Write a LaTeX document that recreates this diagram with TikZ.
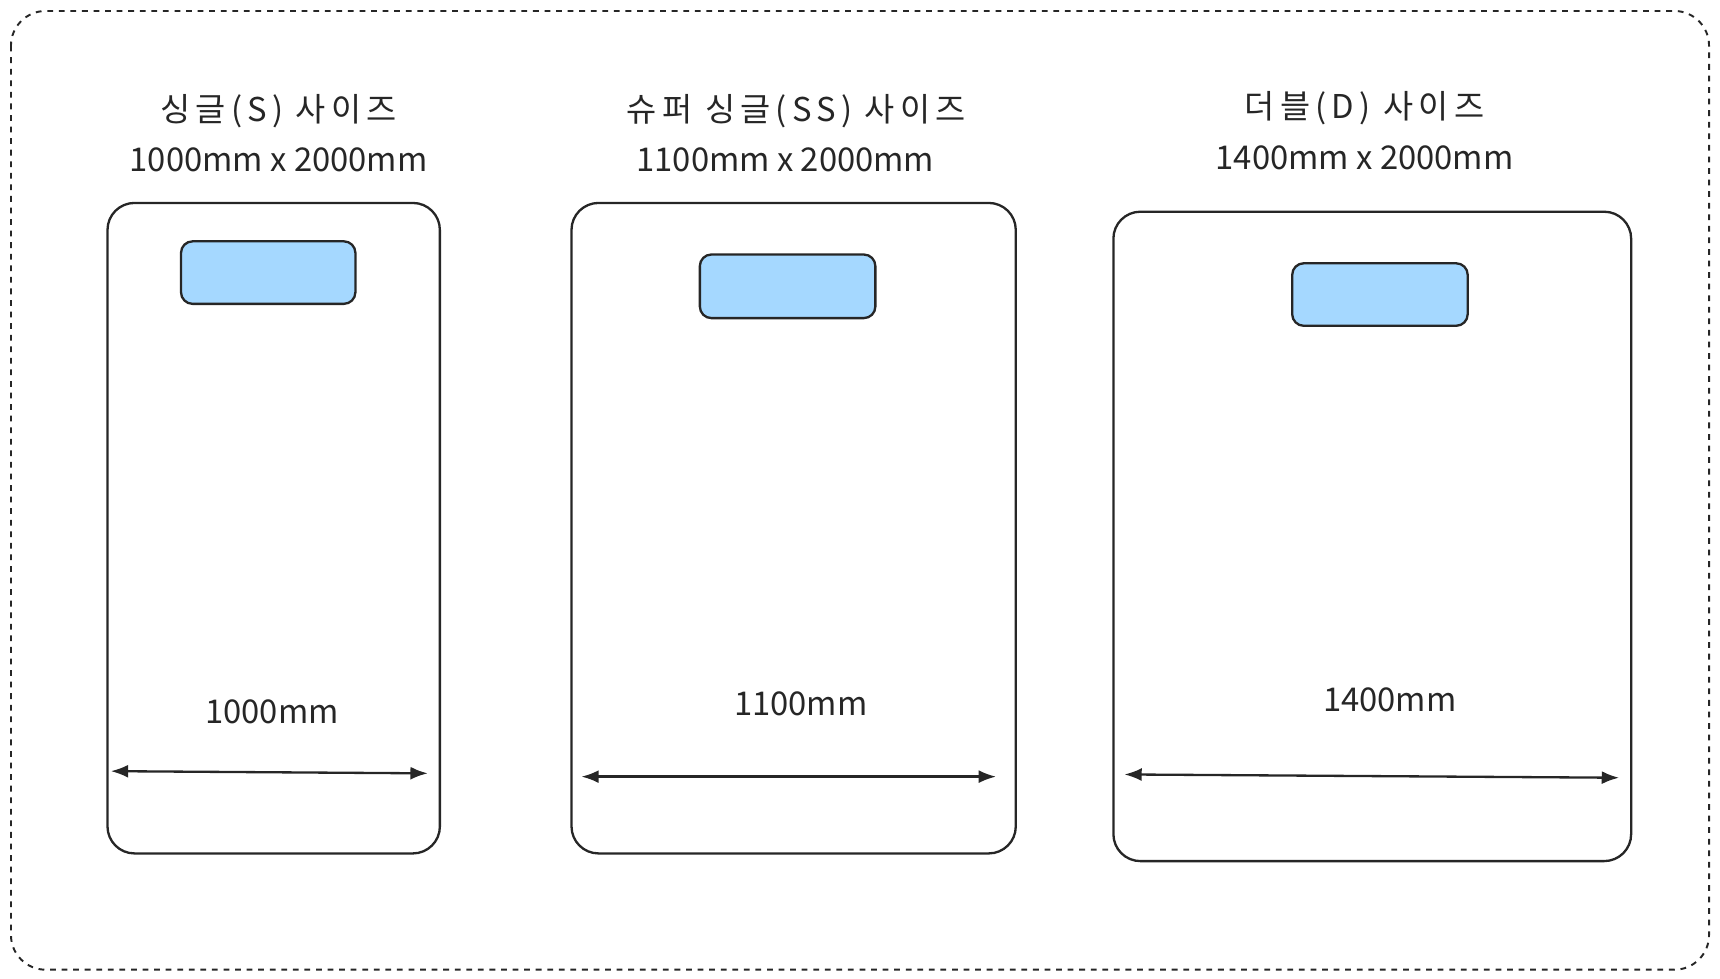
\documentclass[tikz,border=0pt]{standalone}
\usepackage{fontspec}
\setmainfont{Noto Sans CJK KR}
\newfontfamily\spaced[LetterSpace=16]{Noto Sans CJK KR}
\usetikzlibrary{arrows.meta}
\begin{document}
\begin{tikzpicture}[x=0.02cm,y=-0.02cm,
  bed/.style={draw=black!85,line width=1.2pt,rounded corners=14pt},
  pillow/.style={draw=black!85,fill=pillowc,line width=1.2pt,rounded corners=6pt},
  txt/.style={font=\fontsize{17}{20}\selectfont,text=black!85},
  ttl/.style={font=\spaced\fontsize{17}{20}\selectfont,text=black!85},
  dim/.style={draw=black!85,line width=1.2pt,{Latex[length=9pt]}-{Latex[length=9pt]}}]
\definecolor{pillowc}{HTML}{A5D8FF}
\useasboundingbox (0,0) rectangle (1568,892);
\draw[black!85,dashed,line width=1pt,rounded corners=18pt] (10,10) rectangle (1558,884);
% bed 1
\draw[bed] (98,185) rectangle (401,778);
\draw[pillow] (165,220) rectangle (324,277);
\node[ttl] (t1) at (254,101) {싱글(S) 사이즈};
\node[txt] (s1) at (254,146) {1000mm x 2000mm};
\node[txt] (w1) at (248,649) {1000mm};
\coordinate (a1) at (101,703); \coordinate (b1) at (390,705);
\draw[dim] (a1) -- (b1);
% bed 2
\draw[bed] (521,185) rectangle (926,778);
\draw[pillow] (638,232) rectangle (798,290);
\node[ttl] (t2) at (726,101) {슈퍼 싱글(SS) 사이즈};
\node[txt] (s2) at (716,146) {1100mm x 2000mm};
\node[txt] (w2) at (730,642) {1100mm};
\coordinate (a2) at (530,708); \coordinate (b2) at (908,708);
\draw[dim] (a2) -- (b2);
% bed 3
\draw[bed] (1015,193) rectangle (1487,785);
\draw[pillow] (1178,240) rectangle (1338,297);
\node[ttl] (t3) at (1244,99) {더블(D) 사이즈};
\node[txt] (s3) at (1244,144) {1400mm x 2000mm};
\node[txt] (w3) at (1267,638) {1400mm};
\coordinate (a3) at (1025,706); \coordinate (b3) at (1476,709);
\draw[dim] (a3) -- (b3);
\end{tikzpicture}
\end{document}
